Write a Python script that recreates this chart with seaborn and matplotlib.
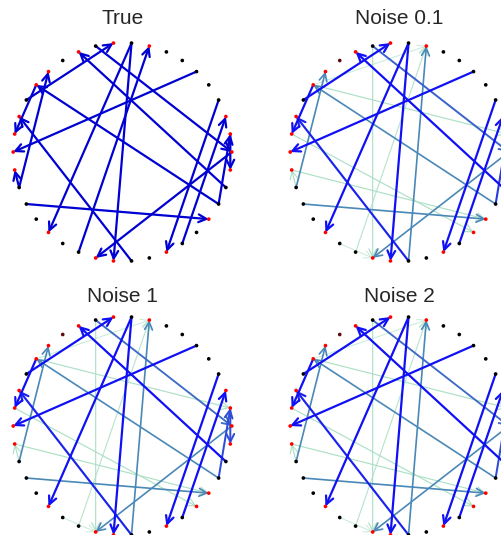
import numpy as np
import pandas as pd
import seaborn as sns
import matplotlib
matplotlib.use("Agg")
import matplotlib.pyplot as plt
from matplotlib.colors import LinearSegmentedColormap

# nodes sit on a circle, numbered counter-clockwise from the right
n_nodes = 38
titles = ["True", "Noise 0.1", "Noise 1", "Noise 2"]

# directed edges (source, target) and their estimated strength per panel
true_src = [11, 16, 9, 9, 26, 36, 5, 21, 21, 35, 15, 29, 22, 3, 32, 35, 0, 1]
true_dst = [0, 10, 24, 28, 8, 12, 19, 14, 20, 15, 18, 17, 34, 31, 2, 1, 27, 37]
true_w = [1.0] * len(true_src)

noise01_src = [11, 16, 9, 9, 29, 26, 36, 5, 21, 21, 35, 15, 29, 22, 3, 32, 35, 0, 1, 11, 15, 18, 20, 25, 15]
noise01_dst = [0, 10, 24, 28, 8, 8, 12, 19, 14, 20, 15, 18, 17, 34, 31, 2, 1, 27, 37, 27, 1, 33, 34, 27, 8]
noise01_w = [0.8, 1.0, 1.0, 1.0, 0.6, 0.2, 1.0, 1.0, 0.6, 0.25, 0.6, 1.0, 0.95, 0.6, 1.0, 1.0, 0.9, 0.6, 0.9,
             0.25, 0.25, 0.25, 0.25, 0.1, 0.1]

noise1_src = noise01_src
noise1_dst = noise01_dst
noise1_w = [0.75, 1.0, 1.0, 1.0, 0.6, 0.2, 1.0, 1.0, 0.6, 0.25, 0.6, 1.0, 0.95, 0.6, 1.0, 1.0, 0.85, 0.6, 0.85,
            0.25, 0.25, 0.25, 0.25, 0.1, 0.1]

noise2_src = noise01_src
noise2_dst = noise01_dst
noise2_w = [0.75, 1.0, 1.0, 1.0, 0.6, 0.2, 1.0, 1.0, 0.6, 0.25, 0.6, 1.0, 0.95, 0.6, 1.0, 1.0, 0.85, 0.6, 0.85,
            0.25, 0.25, 0.25, 0.25, 0.1, 0.1]

# node drawn dark red in the noisy estimates
dim_nodes = [13]

panels = [
    (true_src, true_dst, true_w),
    (noise01_src, noise01_dst, noise01_w),
    (noise1_src, noise1_dst, noise1_w),
    (noise2_src, noise2_dst, noise2_w),
]

angles = 2 * np.pi * np.arange(n_nodes) / n_nodes
pos_x = np.cos(angles)
pos_y = np.sin(angles)

sns.set_style("white")
plt.rcParams["font.family"] = ["Liberation Sans", "DejaVu Sans"]

W, H = 502, 535
fig = plt.figure(figsize=(W / 100, H / 100), dpi=100)

# panel centres in pixels (from bottom-left), circle radius in pixels
centres = [(122.5, 383), (399.5, 383), (122.5, 109), (399.5, 109)]
title_y = [517, 517, 239, 239]
radius_px = 109.3
lim = 1.12
half = lim * radius_px
edge_cmap = LinearSegmentedColormap.from_list(
    "edges", [(0.0, "#d6f2e2"), (0.3, "#a6dcc0"), (0.6, "#4a88b8"), (0.8, "#3a62cc"), (1.0, "#1010f5")])

for k, ((cx, cy), title, (src, dst, w)) in enumerate(zip(centres, titles, panels)):
    ax = fig.add_axes([(cx - half) / W, (cy - half) / H, 2 * half / W, 2 * half / H])
    ax.set_xlim(-lim, lim)
    ax.set_ylim(-lim, lim)
    ax.axis("off")

    order = np.argsort(w, kind="stable")
    for i in order:
        s, d, wt = src[i], dst[i], w[i]
        colour = "#0000d2" if k == 0 else edge_cmap(wt)
        ax.annotate("", xy=(pos_x[d], pos_y[d]), xytext=(pos_x[s], pos_y[s]),
                    arrowprops=dict(arrowstyle="->", color=colour,
                                    lw=0.6 + 1.0 * wt, shrinkA=0, shrinkB=0,
                                    mutation_scale=14))

    targets = set(d for d, wt in zip(dst, w) if wt >= 0.25)
    kinds = []
    for n in range(n_nodes):
        if n in targets:
            kinds.append("in")
        elif k > 0 and n in dim_nodes:
            kinds.append("dim")
        else:
            kinds.append("out")
    nodes = pd.DataFrame({"x": pos_x, "y": pos_y, "kind": kinds})
    sns.scatterplot(data=nodes, x="x", y="y", hue="kind",
                    palette={"in": "red", "out": "black", "dim": "#5c0a0a"}, s=7, linewidth=0,
                    legend=False, ax=ax, zorder=5)
    ax.set_xlabel("")
    ax.set_ylabel("")
    fig.text(cx / W, title_y[k] / H, title, ha="center", va="center", fontsize=15)

fig.savefig("out.png", dpi=100)
